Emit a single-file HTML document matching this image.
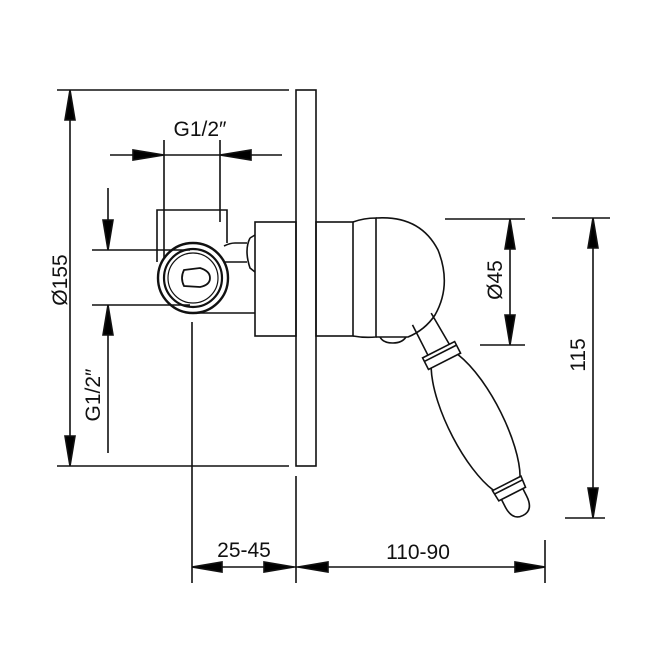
<!DOCTYPE html>
<html><head><style>html,body{margin:0;padding:0;background:#fff}svg{display:block}text{font-family:"Liberation Sans",sans-serif;font-size:21px;fill:#111}</style></head><body>
<svg width="666" height="666" viewBox="0 0 666 666" xmlns="http://www.w3.org/2000/svg">
<g stroke="#111" stroke-width="1.6" fill="none">
<!-- plate -->
<rect x="296" y="90" width="20" height="376"/>
<!-- Ø155 -->
<line x1="57" y1="90" x2="289" y2="90"/><line x1="57" y1="466" x2="289" y2="466"/>
<line x1="70" y1="92" x2="70" y2="464"/>
<path d="M70,90 L65,120 L75,120Z M70,466 L65,436 L75,436Z" fill="#000"/>
<!-- top G1/2 -->
<line x1="164" y1="140" x2="164" y2="258"/><line x1="220" y1="140" x2="220" y2="222"/>
<line x1="110" y1="155" x2="282" y2="155"/>
<path d="M164,155 L133,150 L133,160Z M220,155 L251,150 L251,160Z" fill="#000"/>
<!-- left G1/2 -->
<line x1="92" y1="250" x2="190" y2="250"/><line x1="92" y1="305" x2="190" y2="305"/>
<line x1="108" y1="188" x2="108" y2="250"/><line x1="108" y1="305" x2="108" y2="453"/>
<path d="M108,250 L103,220 L113,220Z M108,305 L103,335 L113,335Z" fill="#000"/>
<!-- body -->
<path d="M157,262 L157,210 L227,210 L227,243"/>
<path d="M224,246 Q230,243 235,243 L247,243 M225,262 L247,262"/>
<path d="M250,238 Q244,250 250,268 L255,272 M250,238 L255,235"/>
<circle cx="193" cy="278" r="35" stroke-width="2.4"/>
<circle cx="193" cy="278" r="29" stroke-width="2.2"/>
<circle cx="193" cy="278" r="25" stroke-width="1.2"/>
<path d="M184,270 L200,268 Q210,271 210,278 Q210,285 200,287 L184,286 Q180,278 184,270Z" stroke-width="1.8"/>
<line x1="193" y1="313" x2="255" y2="313"/>
<rect x="255" y="222" width="41" height="114"/>
<line x1="192" y1="322" x2="192" y2="583"/>
<!-- right side -->
<rect x="316" y="222" width="37" height="114"/>
<path d="M353,222 Q364,218 376,218 L376,337 Q364,338 353,336"/>
<path d="M376,218 Q420,215 438,250 Q452,285 435,315 Q425,330 408,337 L376,337"/>
<path d="M380,337 Q383,343 393,343 Q402,343 406,337"/>
<g transform="translate(425,323) rotate(63)">
<path d="M-6,-10 L30,-12 M-4,12 L30,12"/>
<path d="M30,-18 L43,-18 L43,18 L30,18Z M34,-18 L34,18"/>
<path d="M43,-15 C80,-32 150,-30 180,-15 M43,15 C80,32 150,30 180,15"/>
<path d="M180,-16 L192,-15 L192,15 L180,16Z M184,-16 L184,16"/>
<path d="M192,-12 L200,-12 Q216,-12 216,0 Q216,12 200,12 L192,12"/>
</g>
<!-- Ø45 -->
<line x1="445" y1="219" x2="525" y2="219"/><line x1="480" y1="345" x2="525" y2="345"/>
<line x1="510" y1="221" x2="510" y2="343"/>
<path d="M510,219 L505,249 L515,249Z M510,345 L505,315 L515,315Z" fill="#000"/>
<!-- 115 -->
<line x1="552" y1="218" x2="610" y2="218"/><line x1="565" y1="518" x2="605" y2="518"/>
<line x1="593" y1="220" x2="593" y2="516"/>
<path d="M593,218 L588,248 L598,248Z M593,518 L588,488 L598,488Z" fill="#000"/>
<!-- bottom -->
<line x1="296" y1="476" x2="296" y2="583"/><line x1="545" y1="540" x2="545" y2="583"/>
<line x1="192" y1="567" x2="545" y2="567"/>
<path d="M192,567 L222,562 L222,572Z M294,567 L264,562 L264,572Z M298,567 L328,562 L328,572Z M545,567 L515,562 L515,572Z" fill="#000"/>
</g>
<text x="200" y="136" text-anchor="middle">G1/2″</text>
<text x="244" y="557" text-anchor="middle">25-45</text>
<text x="418" y="559" text-anchor="middle">110-90</text>
<text transform="translate(67,280) rotate(-90)" text-anchor="middle">Ø155</text>
<text transform="translate(100,395) rotate(-90)" text-anchor="middle">G1/2″</text>
<text transform="translate(502,280) rotate(-90)" text-anchor="middle">Ø45</text>
<text transform="translate(585,355) rotate(-90)" text-anchor="middle">115</text>
</svg>
</body></html>
